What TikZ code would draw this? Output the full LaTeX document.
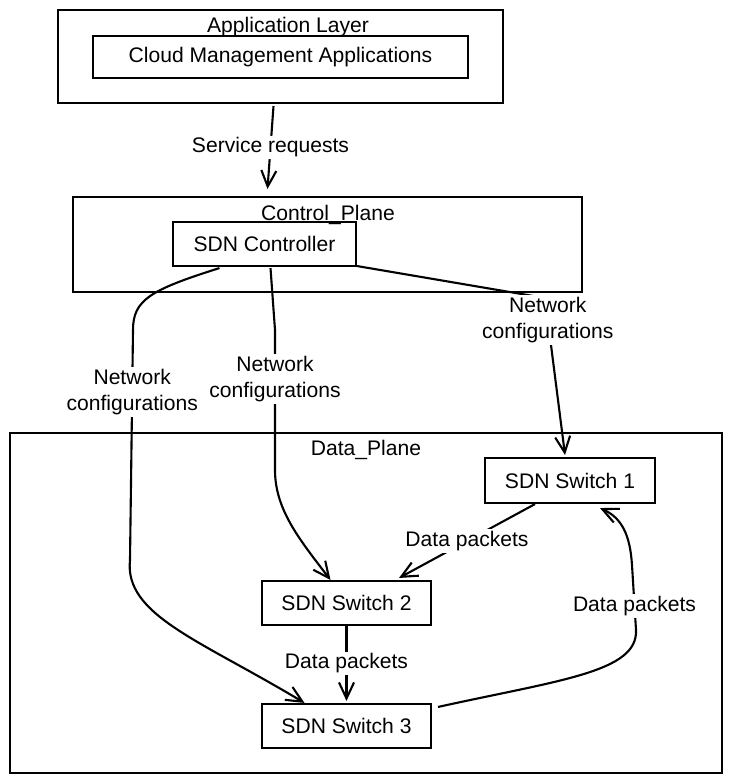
\documentclass[tikz,border=0pt]{standalone}
\usepackage{fontspec}
\setmainfont{Liberation Sans}
\usetikzlibrary{calc,arrows.meta}

\tikzset{
  box/.style={draw,line width=1.2pt,rectangle,inner sep=0pt},
  lbl/.style={fill=white,inner sep=1pt,align=center,font=\fontsize{12}{15}\selectfont},
  arr/.style={line width=1.2pt,-{Straight Barb[length=3.2mm,width=3mm]}}
}

\begin{document}
\begin{tikzpicture}[x=0.02cm,y=-0.02cm,font=\fontsize{12}{14}\selectfont]
\useasboundingbox (0,0) rectangle (733,784);

\node[box,minimum width=8.9cm,minimum height=1.86cm] (app) at (280.5,56.5) {};
\node[box,minimum width=7.5cm,minimum height=0.84cm] (cloud) at (280.5,57) {Cloud Management Applications};
\node (apptitle) at (288,27) {Application Layer};

\node[box,minimum width=10.18cm,minimum height=1.9cm] (cp) at (327.5,244.5) {};
\node[box,minimum width=3.66cm,minimum height=0.88cm] (ctrl) at (264.5,244) {SDN Controller};
\node (cptitle) at (328,215) {Control\_Plane};

\node[box,minimum width=14.24cm,minimum height=6.8cm] (dp) at (366,603) {};
\node (dptitle) at (366,450) {Data\_Plane};

\node[box,minimum width=3.4cm,minimum height=0.9cm] (sw1) at (570,480.5) {SDN Switch 1};
\node[box,minimum width=3.38cm,minimum height=0.88cm] (sw2) at (346.5,603) {SDN Switch 2};
\node[box,minimum width=3.38cm,minimum height=0.88cm] (sw3) at (346.5,726) {SDN Switch 3};

\draw[arr] ($(app.south)+(-7,2)$) -- node[lbl,pos=0.5]{Service requests} ($(cp.north)+(-60,-7)$);

\draw[arr] ($(ctrl.south)+(-45,1)$) .. controls (150,290) and (133,300) .. (133,330)
  -- node[lbl,pos=0.27]{Network\\configurations} (130,560)
  .. controls (124,615) and (200,640) .. ($(sw3.north)+(-42,0)$);
\draw[arr] ($(ctrl.south)+(6,1)$) -- (275,330)
  -- node[lbl,pos=0.35]{Network\\configurations} (275,470)
  .. controls (275,510) and (300,540) .. ($(sw2.north)+(-16,0)$);
\draw[arr] ($(ctrl.south east)+(0,-1)$) -- (545,298)
  -- node[lbl,pos=0.14]{Network\\configurations} ($(sw1.north)+(-5,-2)$);

\draw[arr] ($(sw1.south)+(-35,0)$) -- node[lbl]{Data packets} ($(sw2.north east)+(-33,-2)$);
\draw[arr] (sw2.south) -- node[lbl]{Data packets} ($(sw3.north)+(0,-2)$);
\draw[arr] ($(sw3.north east)+(6,4)$) .. controls (560,680) and (638,672) .. (636,630)
  -- node[lbl,pos=0.37]{Data packets} (632,565)
  .. controls (630,535) and (622,518) .. ($(sw1.south)+(30,4)$);
\end{tikzpicture}
\end{document}
